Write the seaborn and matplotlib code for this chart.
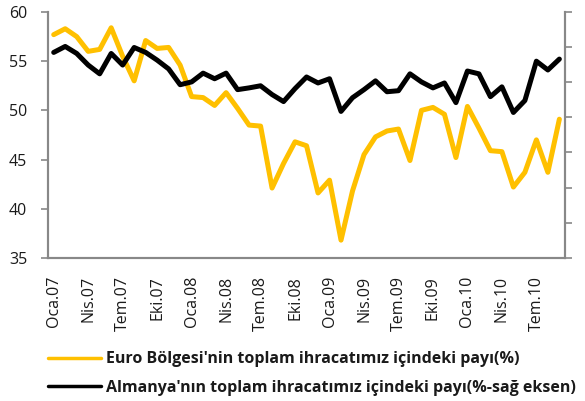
import numpy as np
import pandas as pd
import matplotlib
matplotlib.use("Agg")
import matplotlib.pyplot as plt
import seaborn as sns

# --- DATA (monthly, Oca.07 .. Eyl.10) ---
months_tr = ["Oca", "Şub", "Mar", "Nis", "May", "Haz", "Tem", "Ağu", "Eyl", "Eki", "Kas", "Ara"]
years = ["07", "08", "09", "10"]
month_labels = [f"{m}.{y}" for y in years for m in months_tr][:45]

# Euro Bölgesi share (%), left axis
euro_share = [57.7, 58.3, 57.5, 56.0, 56.2, 58.4, 55.5, 53.0, 57.1, 56.3,
              56.4, 54.6, 51.4, 51.3, 50.5, 51.8, 50.2, 48.5, 48.4, 42.1,
              44.6, 46.8, 46.4, 41.6, 42.9, 36.8, 41.8, 45.5, 47.3, 47.9,
              48.1, 44.9, 50.0, 50.3, 49.6, 45.2, 50.4, 48.2, 45.9, 45.8,
              42.2, 43.7, 47.0, 43.7, 49.1]

# Almanya share (%), right axis
germany_share = [10.85, 11.02, 10.82, 10.49, 10.24, 10.82, 10.49, 10.99, 10.85, 10.63,
                 10.38, 9.93, 10.01, 10.26, 10.10, 10.26, 9.79, 9.84, 9.90, 9.65,
                 9.45, 9.82, 10.15, 9.98, 10.10, 9.17, 9.56, 9.79, 10.04, 9.73,
                 9.76, 10.24, 10.01, 9.84, 9.98, 9.42, 10.32, 10.24, 9.59, 9.87,
                 9.14, 9.48, 10.60, 10.35, 10.66]

label_euro = "Euro Bölgesi'nin toplam ihracatımız içindeki payı(%)"
label_de = "Almanya'nın toplam ihracatımız içindeki payı(%-sağ eksen)"

df = pd.DataFrame({"t": np.arange(len(month_labels)),
                   "euro": euro_share,
                   "de": germany_share})

sns.set_style("white")
plt.rcParams["font.family"] = ["Open Sans", "DejaVu Sans"]

GRAY = "#888888"
YELLOW = "#FFC000"
TXT = "#1a1a1a"

fig = plt.figure(figsize=(5.85, 4.01), dpi=100)
ax = fig.add_axes([0.082, 0.357, 0.884, 0.613])
ax2 = ax.twinx()

sns.lineplot(data=df, x="t", y="euro", ax=ax, color=YELLOW, lw=3.6, label=label_euro, legend=False)
sns.lineplot(data=df, x="t", y="de", ax=ax2, color="black", lw=3.6, label=label_de, legend=False)

ax.set_xlim(-0.5, len(month_labels) - 0.5)
ax.set_ylim(35, 60)
ax.set_yticks([35, 40, 45, 50, 55, 60])
ax2.set_ylim(5, 12)
ax2.set_yticks(np.arange(5, 13, 1))
ax2.set_yticklabels([])

# tick marks between groups of 3 months, labels on first month of each group
ax.set_xticks(np.arange(-0.5, len(month_labels), 3))
ax.set_xticklabels([])
ax.set_xticks(np.arange(0, len(month_labels), 3), minor=True)
ax.set_xticklabels(month_labels[::3], minor=True, rotation=90, fontsize=11.5, color=TXT)
ax.tick_params(axis="x", which="major", length=5, width=1.2, color=GRAY, direction="out")
ax.tick_params(axis="x", which="minor", length=0, pad=13)
ax.tick_params(axis="y", length=5, width=1.2, color=GRAY, direction="out", labelsize=11.5, labelcolor=TXT, pad=10)
ax2.tick_params(axis="y", length=5, width=1.2, color=GRAY, direction="out")

for a in (ax, ax2):
    a.set_xlabel("")
    a.set_ylabel("")
    a.spines["top"].set_visible(False)
    for s in ("left", "bottom", "right"):
        a.spines[s].set_color(GRAY)
        a.spines[s].set_linewidth(1.5)

h1, l1 = ax.get_legend_handles_labels()
h2, l2 = ax2.get_legend_handles_labels()
leg = fig.legend(h1 + h2, l1 + l2, loc="upper left", bbox_to_anchor=(0.058, 0.16),
                 frameon=False, handlelength=3.3, handletextpad=0.3, labelspacing=0.78,
                 prop={"weight": "bold", "size": 11.5})
for line in leg.get_lines():
    line.set_linewidth(2.5)
for t in leg.get_texts():
    t.set_color(TXT)

plt.savefig("out.png", dpi=100)
